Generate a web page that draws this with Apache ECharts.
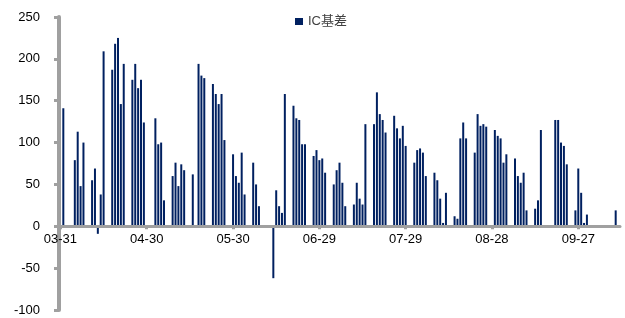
<!DOCTYPE html>
<html>
<head>
<meta charset="utf-8">
<script src="https://cdn.jsdelivr.net/npm/echarts@6/dist/echarts.min.js"></script>
<style>
html,body{margin:0;padding:0;background:#fff;}
#chart{width:625px;height:318px;}
</style>
</head>
<body>
<div id="chart"></div>
<script>
// IC基差, 2016-03-31 ~ 2016-10-11, 日历日坐标（非交易日空缺）
var startDate = '2016-03-31';
var dayCount = 195;

var tradeDates = [
  '04-01','04-05','04-06','04-07','04-08','04-11','04-12','04-13','04-14','04-15',
  '04-18','04-19','04-20','04-21','04-22','04-25','04-26','04-27','04-28','04-29',
  '05-03','05-04','05-05','05-06','05-09','05-10','05-11','05-12','05-13',
  '05-16','05-17','05-18','05-19','05-20','05-23','05-24','05-25','05-26','05-27',
  '05-30','05-31','06-01','06-02','06-03','06-06','06-07','06-08',
  '06-13','06-14','06-15','06-16','06-17','06-20','06-21','06-22','06-23','06-24',
  '06-27','06-28','06-29','06-30','07-01','07-04','07-05','07-06','07-07','07-08',
  '07-11','07-12','07-13','07-14','07-15','07-18','07-19','07-20','07-21','07-22',
  '07-25','07-26','07-27','07-28','07-29','08-01','08-02','08-03','08-04','08-05',
  '08-08','08-09','08-10','08-11','08-12','08-15','08-16','08-17','08-18','08-19',
  '08-22','08-23','08-24','08-25','08-26','08-29','08-30','08-31','09-01','09-02',
  '09-05','09-06','09-07','09-08','09-09','09-12','09-13','09-14',
  '09-19','09-20','09-21','09-22','09-23','09-26','09-27','09-28','09-29','09-30',
  '10-10'
];
var basis = [
  141,79,113,48,100,55,69,-9,38,209,
  187,218,225,146,194,175,194,165,175,124,
  129,98,100,31,60,76,48,74,67,
  62,1,194,180,177,170,158,146,158,103,
  86,60,52,88,38,76,50,24,
  -62,43,24,16,158,144,129,127,98,98,
  84,91,79,81,64,50,67,76,52,24,
  26,52,33,26,122,122,160,134,127,112,
  132,117,105,120,96,76,91,93,88,60,
  64,55,33,4,40,12,9,105,124,105,
  88,134,120,122,119,115,108,105,76,86,
  81,60,52,64,19,21,31,115,
  127,127,100,96,74,19,69,40,4,14,
  19
];
var yTicks = [-100, 250, 50]; // min, max, interval

function pad(n){ return (n < 10 ? '0' : '') + n; }

// 日历日类目
var days = [];
var t0 = Date.parse(startDate + 'T00:00:00Z');
for (var i = 0; i < dayCount; i++) {
  var d = new Date(t0 + i * 86400000);
  days.push(pad(d.getUTCMonth() + 1) + '-' + pad(d.getUTCDate()));
}
var lookup = {};
tradeDates.forEach(function(k, j){ lookup[k] = basis[j]; });
var seriesData = days.map(function(k){ return k in lookup ? lookup[k] : null; });

var gridTop = 17, gridH = 293;
// x轴放在0值处
var zeroOffset = -gridH * (0 - yTicks[0]) / (yTicks[1] - yTicks[0]);

var chart = echarts.init(document.getElementById('chart'));
var axisGrey = '#a0a0a0';
var font = 'Liberation Sans, Noto Sans CJK SC, sans-serif';
var option = {
  animation: false,
  textStyle: {fontFamily: font},
  grid: {left: 59, right: 5, top: gridTop, height: gridH, outerBoundsMode: 'none', containLabel: false},
  legend: {
    data: ['IC基差'],
    icon: 'rect',
    itemWidth: 8,
    itemHeight: 7,
    itemGap: 4,
    left: 290,
    top: 10,
    textStyle: {fontSize: 13, color: '#404040', fontFamily: 'Liberation Sans, Noto Sans CJK SC'}
  },
  xAxis: {
    type: 'category',
    data: days,
    boundaryGap: true,
    position: 'bottom',
    offset: zeroOffset,
    z: 5,
    axisLine: {show: true, onZero: false, lineStyle: {color: axisGrey, width: 3}},
    axisTick: {show: true, interval: 29, alignWithLabel: true, length: 3, lineStyle: {color: axisGrey, width: 3}},
    axisLabel: {interval: 29, margin: 7, fontSize: 13, color: '#000'},
    splitLine: {show: false}
  },
  yAxis: {
    type: 'value',
    min: yTicks[0],
    max: yTicks[1],
    interval: yTicks[2],
    axisLine: {show: true, lineStyle: {color: axisGrey, width: 4}},
    axisTick: {show: true, length: 5, lineStyle: {color: axisGrey, width: 3}},
    axisLabel: {margin: 19, fontSize: 13, color: '#000'},
    splitLine: {show: false}
  },
  series: [{
    name: 'IC基差',
    type: 'bar',
    data: seriesData,
    barWidth: 2,
    itemStyle: {color: '#002060'},
    // 零轴线
    markLine: {
      silent: true,
      symbol: ['none', 'none'],
      label: {show: false},
      lineStyle: {color: axisGrey, width: 3, type: 'solid'},
      data: [{yAxis: 0}]
    }
  }]
};
chart.setOption(option);
</script>
</body>
</html>
